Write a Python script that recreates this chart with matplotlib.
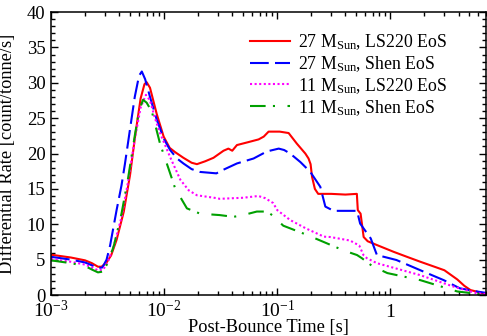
import matplotlib
matplotlib.use("Agg")
import matplotlib.pyplot as plt
from matplotlib.ticker import MultipleLocator, LogLocator, NullFormatter, FixedLocator

plt.rcParams['font.family'] = ['Liberation Serif', 'DejaVu Serif']
plt.rcParams['mathtext.fontset'] = 'custom'
plt.rcParams['mathtext.rm'] = 'Liberation Serif'
plt.rcParams['mathtext.it'] = 'Liberation Serif:italic'

# 27 M_Sun, LS220 EoS
t_27_ls = [1.0e-3, 1.5e-3, 2.0e-3, 2.3e-3, 2.6e-3, 2.8e-3, 3.1e-3, 3.4e-3, 3.8e-3, 4.4e-3,
           5.0e-3, 5.6e-3, 6.2e-3, 6.7e-3, 7.0e-3, 7.5e-3, 8.6e-3, 9.9e-3, 0.0112, 0.0125,
           0.0148, 0.0175, 0.0195, 0.023, 0.0273, 0.0335, 0.037, 0.040, 0.044, 0.055,
           0.0684, 0.076, 0.0838, 0.105, 0.126, 0.149, 0.177, 0.189, 0.197, 0.203,
           0.215, 0.230, 0.300, 0.400, 0.505, 0.515, 0.545, 0.580, 0.630, 0.75,
           1.07, 1.40, 1.84, 2.5, 3.0, 3.9, 4.5, 5.1, 6.6, 7.0]
r_27_ls = [5.7, 5.3, 4.9, 4.5, 4.0, 4.0, 4.6, 5.6, 7.8, 11.8,
           17.0, 23.0, 27.8, 29.8, 30.1, 29.3, 25.6, 22.4, 20.8, 20.2,
           19.4, 18.7, 18.5, 18.9, 19.4, 20.4, 20.7, 20.4, 21.2, 21.6,
           22.0, 22.4, 23.1, 23.1, 22.9, 21.4, 20.0, 19.3, 18.5, 16.7,
           15.0, 14.3, 14.3, 14.2, 14.3, 12.0, 11.5, 8.2, 7.6, 7.1,
           6.1, 5.4, 4.7, 3.95, 3.5, 2.2, 1.3, 0.7, 0.25, 0.2]

# 27 M_Sun, Shen EoS
t_27_sh = [1.0e-3, 1.5e-3, 2.0e-3, 2.3e-3, 2.6e-3, 2.85e-3, 3.1e-3, 3.33e-3, 3.8e-3, 4.2e-3,
           4.5e-3, 5.0e-3, 5.5e-3, 6.0e-3, 6.35e-3, 6.8e-3, 7.5e-3, 8.6e-3, 0.0100, 0.0113,
           0.0130, 0.0148, 0.0175, 0.0208, 0.029, 0.0313, 0.044, 0.0617, 0.081, 0.103,
           0.115, 0.130, 0.160, 0.196, 0.240, 0.266, 0.315, 0.40, 0.507, 0.54,
           0.67, 0.76, 1.13, 1.84, 2.96, 4.1, 5.8, 7.0]
r_27_sh = [5.4, 5.0, 4.6, 4.2, 3.8, 3.9, 5.0, 7.0, 12.0, 15.5,
           18.5, 23.5, 28.0, 31.0, 31.6, 30.5, 28.0, 24.8, 22.0, 20.5,
           19.3, 18.6, 17.8, 17.4, 17.2, 17.5, 18.6, 19.3, 20.3, 20.7,
           20.5, 20.0, 18.8, 17.4, 15.3, 12.5, 11.9, 11.9, 11.9, 10.1,
           8.0, 5.65, 4.95, 3.5, 2.1, 0.95, 0.5, 0.3]

# 11 M_Sun, LS220 EoS
t_11_ls = [1.0e-3, 1.5e-3, 2.0e-3, 2.3e-3, 2.6e-3, 2.9e-3, 3.2e-3, 3.6e-3, 4.2e-3, 4.8e-3,
           5.5e-3, 6.2e-3, 6.9e-3, 7.5e-3, 8.3e-3, 9.2e-3, 0.0113, 0.0139, 0.0165, 0.0195,
           0.029, 0.031, 0.05, 0.068, 0.078, 0.092, 0.10, 0.13, 0.18, 0.258,
           0.294, 0.44, 0.53, 0.58, 0.62, 0.76, 1.84, 3.6, 5.8, 7.0]
r_11_ls = [5.1, 4.7, 4.3, 3.9, 3.5, 3.6, 4.8, 7.0, 11.0, 16.0,
           22.0, 26.5, 28.3, 27.5, 25.0, 22.9, 19.5, 16.3, 14.8, 14.1,
           13.7, 13.6, 13.75, 14.0, 13.7, 13.0, 12.0, 10.6, 9.4, 8.25,
           8.2, 7.7, 7.0, 5.6, 5.2, 4.5, 2.8, 1.2, 0.25, 0.15]

# 11 M_Sun, Shen EoS
t_11_sh = [1.0e-3, 1.5e-3, 2.0e-3, 2.3e-3, 2.6e-3, 2.85e-3, 3.2e-3, 3.6e-3, 4.2e-3, 4.8e-3,
           5.5e-3, 6.0e-3, 6.5e-3, 7.0e-3, 7.8e-3, 9.2e-3, 0.0113, 0.0125, 0.0159, 0.0208,
           0.031, 0.041, 0.050, 0.066, 0.081, 0.09, 0.113, 0.183, 0.275, 0.386,
           0.507, 0.56, 0.69, 0.94, 1.84, 3.9, 6.3, 7.0]
r_11_sh = [4.9, 4.5, 4.1, 3.6, 3.2, 3.3, 4.6, 7.0, 11.5, 16.5,
           22.5, 26.0, 27.6, 27.2, 25.9, 21.4, 17.2, 15.1, 12.25, 11.5,
           11.3, 11.05, 11.3, 11.8, 11.8, 11.3, 9.8, 8.5, 7.3, 6.3,
           5.65, 5.2, 4.1, 3.1, 2.1, 0.5, 0.1, 0.05]

labels = [r"27 M$_{\rm Sun}$, LS220 EoS", r"27 M$_{\rm Sun}$, Shen EoS",
          r"11 M$_{\rm Sun}$, LS220 EoS", r"11 M$_{\rm Sun}$, Shen EoS"]

xtick_vals = [1e-3, 1e-2, 1e-1, 1]
xtick_text = [r"$10^{-3}$", r"$10^{-2}$", r"$10^{-1}$", r"$1$"]

fig = plt.figure(figsize=(4.87, 3.36), dpi=100)
ax = fig.add_axes([0.1047, 0.122, 0.8933, 0.842])

lw = 1.5
ax.plot(t_27_ls, r_27_ls, color='#ff0000', lw=lw, ls='-', label=labels[0])
ax.plot(t_27_sh, r_27_sh, color='#0000ff', lw=lw, ls=(0, (9, 3)), label=labels[1])
ax.plot(t_11_ls, r_11_ls, color='#ff00ff', lw=lw, ls=(0, (1, 1.2)), label=labels[2])
ax.plot(t_11_sh, r_11_sh, color='#00a000', lw=lw, ls=(0, (7.5, 3.5, 1, 6)), label=labels[3])

ax.set_xscale('log')
ax.set_xlim(1e-3, 7.0)
ax.set_ylim(0, 40)

ax.xaxis.set_major_locator(FixedLocator(xtick_vals))
ax.set_xticklabels(xtick_text)
ax.xaxis.set_minor_locator(LogLocator(base=10, subs=range(2, 10), numticks=20))
ax.xaxis.set_minor_formatter(NullFormatter())
ax.yaxis.set_major_locator(MultipleLocator(5))
ax.yaxis.set_minor_locator(MultipleLocator(1))

ax.tick_params(which='both', direction='in', top=True, right=True, width=1.0)
ax.tick_params(axis='x', labelsize=14)
ax.tick_params(axis='y', labelsize=13.4, pad=4)
ax.tick_params(which='major', length=5)
ax.tick_params(which='minor', length=3)
ax.tick_params(axis='x', which='major', pad=15.6)
for tick in ax.xaxis.get_major_ticks():
    tick.label1.set_va('baseline')
for s in ax.spines.values():
    s.set_linewidth(1.1)

ax.set_xlabel("Post-Bounce Time [s]", fontsize=13.2)
ax.xaxis.set_label_coords(0.5, -0.085, transform=ax.transAxes)
ax.set_ylabel("Differential Rate [count/tonne/s]", fontsize=13.2)
ax.yaxis.set_label_coords(-0.08, 0.5)

ax.legend(loc='upper left', bbox_to_anchor=(0.4575, 0.93), frameon=False, fontsize=12.8,
          handlelength=2.25, handletextpad=0.45, labelspacing=0.12, borderaxespad=0,
          borderpad=0)

fig.savefig("out.png", dpi=100)
